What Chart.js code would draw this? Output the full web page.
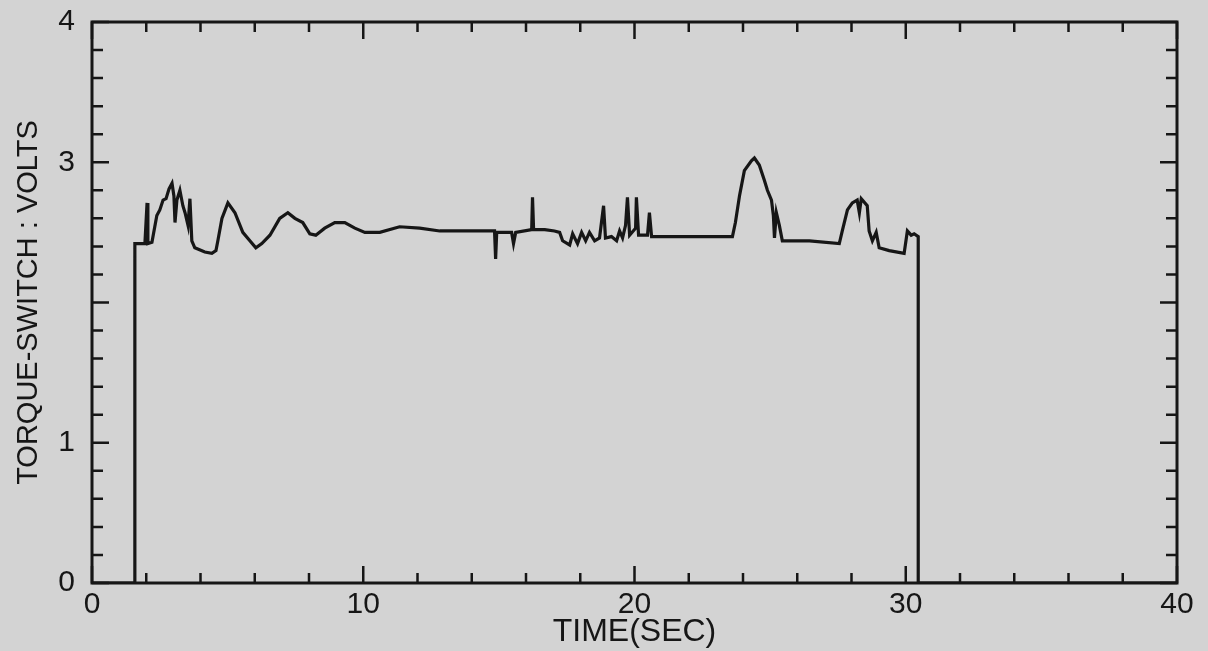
<!DOCTYPE html>
<html>
<head>
<meta charset="utf-8">
<script src="https://cdn.jsdelivr.net/npm/chart.js@4.4.0/dist/chart.umd.min.js"></script>
<style>
  html, body { margin:0; padding:0; background:#d3d3d3; }
  #wrap { width:1208px; height:651px; position:relative; }
</style>
</head>
<body>
<div id="wrap"><canvas id="c"></canvas></div>
<script>
// ---- data ----
const TIME_SEC = [0, 1.58, 1.58, 1.95, 2.03, 2.06, 2.21, 2.39, 2.50, 2.62, 2.73, 2.84, 2.95, 3.02, 3.06, 3.13, 3.24, 3.35, 3.43, 3.54, 3.61, 3.68, 3.79, 4.16, 4.42, 4.57, 4.64, 4.79, 5.01, 5.27, 5.56, 5.82, 6.04, 6.26, 6.56, 6.92, 7.22, 7.48, 7.77, 8.03, 8.25, 8.58, 8.95, 9.32, 9.69, 10.06, 10.61, 11.34, 12.08, 12.82, 13.55, 14.66, 14.84, 14.88, 14.92, 15.47, 15.54, 15.62, 16.21, 16.24, 16.28, 16.69, 17.05, 17.24, 17.35, 17.61, 17.72, 17.90, 18.05, 18.20, 18.34, 18.53, 18.71, 18.86, 18.93, 19.15, 19.34, 19.45, 19.56, 19.67, 19.74, 19.82, 20.04, 20.07, 20.15, 20.48, 20.55, 20.63, 22.39, 23.61, 23.72, 23.87, 24.05, 24.31, 24.42, 24.60, 24.79, 24.90, 25.05, 25.12, 25.16, 25.23, 25.34, 25.45, 25.71, 26.45, 27.55, 27.66, 27.85, 28.03, 28.21, 28.29, 28.36, 28.58, 28.65, 28.77, 28.91, 29.02, 29.39, 29.94, 30.06, 30.20, 30.31, 30.46, 30.46, 40];
const VOLTS = [0, 0, 2.42, 2.42, 2.71, 2.42, 2.43, 2.62, 2.66, 2.73, 2.74, 2.81, 2.85, 2.76, 2.57, 2.73, 2.80, 2.69, 2.64, 2.55, 2.74, 2.44, 2.39, 2.36, 2.35, 2.37, 2.44, 2.60, 2.71, 2.64, 2.50, 2.44, 2.39, 2.42, 2.48, 2.60, 2.64, 2.60, 2.57, 2.49, 2.48, 2.53, 2.57, 2.57, 2.53, 2.50, 2.50, 2.54, 2.53, 2.51, 2.51, 2.51, 2.51, 2.31, 2.50, 2.50, 2.42, 2.50, 2.52, 2.75, 2.52, 2.52, 2.51, 2.50, 2.44, 2.41, 2.49, 2.42, 2.50, 2.44, 2.50, 2.44, 2.46, 2.69, 2.46, 2.47, 2.44, 2.51, 2.46, 2.55, 2.75, 2.48, 2.53, 2.75, 2.48, 2.48, 2.64, 2.47, 2.47, 2.47, 2.57, 2.76, 2.94, 3.01, 3.03, 2.98, 2.87, 2.80, 2.73, 2.62, 2.46, 2.64, 2.55, 2.44, 2.44, 2.44, 2.42, 2.51, 2.66, 2.71, 2.73, 2.64, 2.74, 2.69, 2.51, 2.44, 2.50, 2.39, 2.37, 2.35, 2.51, 2.48, 2.49, 2.47, 0, 0];
const X_TICKS = [0, 10, 20, 30, 40];
const X_TICK_LABELS = ['0', '10', '20', '30', '40'];
const Y_TICKS = [0, 1, 2, 3, 4];
const Y_TICK_LABELS = ['0', '1', '', '3', '4'];   // the "2" is blotted out on the original
const X_TITLE = 'TIME(SEC)';
const Y_TITLE = 'TORQUE-SWITCH : VOLTS';

const INK = '#161616';
const FONT = "'Liberation Sans', Arial, sans-serif";

// frame + inward tick marks drawn through the chart's scales
const framePlugin = {
  id: 'frame',
  afterDraw(chart) {
    const {ctx, chartArea: a, scales: {x, y}} = chart;
    ctx.save();
    ctx.strokeStyle = INK;
    ctx.lineWidth = 3;
    ctx.strokeRect(a.left, a.top, a.right - a.left, a.bottom - a.top);
    ctx.lineWidth = 2.5;
    ctx.beginPath();
    for (let v = x.min; v <= x.max + 1e-9; v += 2) {
      const px = x.getPixelForValue(v);
      const len = (Math.round(v) % 10 === 0) ? 17 : 10;
      ctx.moveTo(px, a.bottom); ctx.lineTo(px, a.bottom - len);
      ctx.moveTo(px, a.top); ctx.lineTo(px, a.top + len);
    }
    for (let i = 0; i <= 20; i++) {
      const v = y.min + i * 0.2;
      const py = y.getPixelForValue(v);
      const len = (i % 5 === 0) ? 17 : 11;
      ctx.moveTo(a.left, py); ctx.lineTo(a.left + len, py);
      ctx.moveTo(a.right, py); ctx.lineTo(a.right - len, py);
    }
    ctx.stroke();
    ctx.restore();
  }
};

new Chart(document.getElementById('c'), {
  type: 'line',
  data: {
    datasets: [{
      data: TIME_SEC.map((t, i) => ({x: t, y: VOLTS[i]})),
      borderColor: INK,
      borderWidth: 3.2,
      pointRadius: 0,
      tension: 0,
      fill: false
    }]
  },
  options: {
    responsive: true,
    maintainAspectRatio: false,
    animation: false,
    layout: { padding: { top: 22, right: 31, left: 0, bottom: 0 } },
    plugins: { legend: { display: false }, tooltip: { enabled: false } },
    scales: {
      x: {
        type: 'linear', min: 0, max: 40,
        afterBuildTicks(s) { s.ticks = X_TICKS.map(v => ({value: v})); },
        ticks: {
          color: INK, font: { family: FONT, size: 30 }, padding: 4, maxRotation: 0,
          callback: (v) => X_TICK_LABELS[X_TICKS.indexOf(v)]
        },
        grid: { display: false, drawTicks: false },
        border: { display: false },
        title: { display: true, text: X_TITLE, color: INK, font: { family: FONT, size: 32 }, padding: { top: 0, bottom: 0 } },
        afterFit(s) { s.height = 68; s.paddingLeft = 0; s.paddingRight = 0; }
      },
      y: {
        type: 'linear', min: 0, max: 4,
        afterBuildTicks(s) { s.ticks = Y_TICKS.map(v => ({value: v})); },
        ticks: {
          color: INK, font: { family: FONT, size: 30 }, padding: 17,
          callback: (v) => Y_TICK_LABELS[Y_TICKS.indexOf(v)]
        },
        grid: { display: false, drawTicks: false },
        border: { display: false },
        title: { display: true, text: Y_TITLE, color: INK, font: { family: FONT, size: 29 }, padding: { top: 12, bottom: 0 } },
        afterFit(s) { s.width = 92; s.paddingTop = 0; s.paddingBottom = 0; }
      }
    }
  },
  plugins: [framePlugin]
});
</script>
</body>
</html>
